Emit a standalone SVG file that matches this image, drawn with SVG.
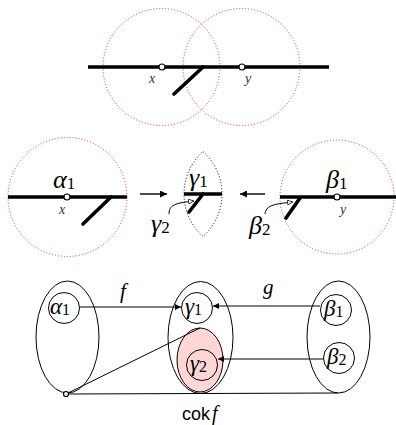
<svg xmlns="http://www.w3.org/2000/svg" width="396" height="425" viewBox="0 0 396 425">
<style>
.bg{fill:#fff}
.rc{fill:none;stroke:#e03030;stroke-width:1;stroke-dasharray:1 2}
.lens{fill:none;stroke:#000;stroke-width:1;stroke-dasharray:1 2}
.thick{stroke:#000;stroke-width:3.6;fill:none}
.br{stroke:#000;stroke-width:3.6;stroke-linecap:round;fill:none}
.pt{fill:#fff;stroke:#000;stroke-width:1.2}
.thin{fill:none;stroke:#000;stroke-width:1}
.m{font-family:"Liberation Serif","DejaVu Serif",serif;font-style:italic;fill:#000}
.sub{font-style:normal}
.sm{font-family:"Liberation Serif","DejaVu Serif",serif;font-style:italic;font-size:14px;fill:#333}
.sans{font-family:"Liberation Sans","DejaVu Sans",sans-serif;font-size:18px;fill:#000}
</style>
<defs>
<marker id="ah" viewBox="0 0 10 10" refX="10" refY="5" markerWidth="9" markerHeight="7" orient="auto" markerUnits="userSpaceOnUse"><path d="M0,0 L10,5 L0,10 z" fill="#000"/></marker>
<marker id="ahs" viewBox="0 0 10 10" refX="10" refY="5" markerWidth="8" markerHeight="6" orient="auto" markerUnits="userSpaceOnUse"><path d="M0,0 L10,5 L0,10 z" fill="#000"/></marker>
<marker id="ao" viewBox="0 0 10 10" refX="10" refY="5" markerWidth="8" markerHeight="6" orient="auto" markerUnits="userSpaceOnUse"><path d="M1,1 L9.5,5 L1,9 z" fill="#fff" stroke="#000" stroke-width="1.2"/></marker>
</defs>
<rect class="bg" x="0" y="0" width="396" height="425"/>

<g id="top-graph">
<circle class="rc" cx="161.5" cy="67" r="58.5"/>
<circle class="rc" cx="241.5" cy="67" r="58.5"/>
<line class="thick" x1="88" y1="67" x2="329" y2="67"/>
<line class="br" x1="203" y1="67" x2="174" y2="94"/>
<circle class="pt" cx="162" cy="67" r="3"/>
<circle class="pt" cx="242" cy="67" r="3"/>
<text class="sm" x="149" y="83">x</text>
<text class="sm" x="245" y="83">y</text>
</g>

<g id="alpha1-neighbourhood">
<circle class="rc" cx="67.5" cy="197" r="59.5"/>
<line class="thick" x1="8" y1="197" x2="127" y2="197"/>
<line class="br" x1="111" y1="197" x2="83" y2="224"/>
<circle class="pt" cx="67" cy="197" r="3"/>
<text class="m" x="53" y="188" font-size="26">α<tspan class="sub" font-size="17" dy="1">1</tspan></text>
<text class="sm" x="59" y="214">x</text>
</g>

<g id="gamma-lens">
<path class="lens" d="M203,151.5 A57,57 0 0 1 203,236.5 A57,57 0 0 1 203,151.5 Z"/>
<line class="thick" x1="184" y1="194" x2="222" y2="194"/>
<line class="br" x1="203" y1="194" x2="189" y2="212"/>
<text class="m" x="189" y="186" font-size="26">γ<tspan class="sub" font-size="17" dy="1">1</tspan></text>
<text class="m" x="151" y="232" font-size="26">γ<tspan class="sub" font-size="17" dy="1">2</tspan></text>
</g>

<g id="beta1-neighbourhood">
<circle class="rc" cx="337" cy="197" r="57"/>
<line class="thick" x1="280" y1="197" x2="396" y2="197"/>
<line class="br" x1="300" y1="198" x2="286" y2="218"/>
<circle class="pt" cx="337" cy="197" r="3"/>
<text class="m" x="326" y="188" font-size="26">β<tspan class="sub" font-size="17" dy="1">1</tspan></text>
<text class="sm" x="340" y="214">y</text>
<text class="m" x="249" y="234" font-size="26">β<tspan class="sub" font-size="17" dy="1">2</tspan></text>
</g>

<g id="alpha-set">
<ellipse class="thin" cx="67.5" cy="337" rx="31.5" ry="56"/>
<circle class="thin" cx="64" cy="308" r="15.5"/>
<text class="m" x="50" y="314" font-size="23">α<tspan class="sub" font-size="16" dy="1">1</tspan></text>
</g>

<g id="cokernel-set">
<ellipse class="thin" cx="200.5" cy="337.5" rx="32.5" ry="56"/>
<ellipse cx="200" cy="360" rx="23" ry="32" fill="#ffd6d6" stroke="#000" stroke-width="1"/>
<circle class="thin" cx="197" cy="308" r="15.5"/>
<circle class="thin" cx="202" cy="365" r="15.5"/>
<text class="m" x="185" y="314" font-size="23">γ<tspan class="sub" font-size="16" dy="1">1</tspan></text>
<text class="m" x="190" y="371" font-size="23">γ<tspan class="sub" font-size="16" dy="1">2</tspan></text>
<text class="sans" x="182" y="420">cok<tspan class="m" font-size="20" dx="2">f</tspan></text>
</g>

<g id="beta-set">
<ellipse class="thin" cx="338.5" cy="337" rx="31.5" ry="56"/>
<circle class="thin" cx="336" cy="310" r="15.5"/>
<circle class="thin" cx="339" cy="358" r="15.5"/>
<text class="m" x="324" y="316" font-size="23">β<tspan class="sub" font-size="16" dy="1">1</tspan></text>
<text class="m" x="327" y="364" font-size="23">β<tspan class="sub" font-size="16" dy="1">2</tspan></text>
</g>

<g id="connectors">
<line x1="140" y1="194" x2="167" y2="194" stroke="#000" stroke-width="1.4" marker-end="url(#ah)"/>
<line x1="265" y1="194" x2="240" y2="194" stroke="#000" stroke-width="1.4" marker-end="url(#ah)"/>
<path d="M169,214 C169,205 175,203 194,201" class="thin" marker-end="url(#ao)"/>
<path d="M265,214 C266,206 272,204 293,202" class="thin" marker-end="url(#ao)"/>
<line x1="80" y1="307" x2="181" y2="307" class="thin" marker-end="url(#ahs)"/>
<line x1="320" y1="306" x2="213" y2="306" class="thin" marker-end="url(#ahs)"/>
<line x1="323" y1="359" x2="218" y2="359" class="thin" marker-end="url(#ahs)"/>
<line x1="66" y1="394" x2="200" y2="328" class="thin"/>
<line x1="66" y1="394" x2="338" y2="393" class="thin"/>
<circle class="pt" cx="66" cy="394" r="2.5" stroke-width="1"/>
<text class="m" x="120" y="298" font-size="21">f</text>
<text class="m" x="263" y="294" font-size="21">g</text>
</g>
</svg>
